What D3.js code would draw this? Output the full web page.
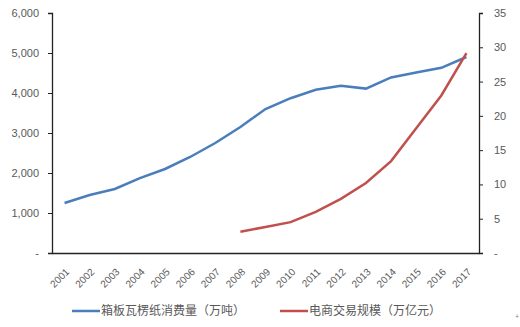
<!DOCTYPE html>
<html><head><meta charset="utf-8">
<script src="https://cdn.jsdelivr.net/npm/d3@7"></script>
<style>body{margin:0;background:#fff;} text{font-family:"Liberation Sans","DejaVu Sans",sans-serif;}</style>
</head><body>
<svg id="c" width="520" height="327"></svg>
<script>
const years = ["2001","2002","2003","2004","2005","2006","2007","2008","2009","2010","2011","2012","2013","2014","2015","2016","2017"];
const cardboard = [1250,1450,1600,1870,2100,2400,2750,3150,3600,3870,4080,4180,4110,4390,4510,4630,4900];
const ecomYears = ["2008","2009","2010","2011","2012","2013","2014","2015","2016","2017"];
const ecom = [3.1,3.8,4.5,6.0,7.9,10.2,13.4,18.2,22.97,29.16];
const leftTicks = [0,1000,2000,3000,4000,5000,6000];
const rightTicks = [0,5,10,15,20,25,30,35];
const seriesNames = ["箱板瓦楞纸消费量（万吨）","电商交易规模（万亿元）"];

const svg = d3.select("#c");
const L = 52, R = 479, T = 13, B = 253;
const x = d3.scaleBand().domain(years).range([L, R]);
const yL = d3.scaleLinear().domain([0, 6000]).range([B, T]);
const yR = d3.scaleLinear().domain([0, 35]).range([B, T]);
const grey = "#595959";

const ax1 = svg.append("g").attr("transform", `translate(${L},0)`)
  .call(d3.axisLeft(yL).tickValues(leftTicks).tickSize(4).tickPadding(9)
    .tickFormat(d => d === 0 ? "-" : d3.format(",")(d)));
const ax2 = svg.append("g").attr("transform", `translate(${R},0)`)
  .call(d3.axisRight(yR).tickValues(rightTicks).tickSize(4).tickPadding(11)
    .tickFormat(d => d === 0 ? "-" : d));
[ax1, ax2].forEach(a => {
  a.select(".domain").attr("stroke", "#222").attr("stroke-width", 1.3);
  a.selectAll(".tick line").attr("stroke", "#222");
  a.selectAll("text").attr("fill", grey).style("font-size", "11px");
});
const ax3 = svg.append("g").attr("transform", `translate(0,${B})`)
  .call(d3.axisBottom(x).tickSize(0).tickSizeOuter(0).tickPadding(0));
ax3.select(".domain").attr("stroke", "#222").attr("stroke-width", 1.3);
ax3.selectAll("text").attr("fill", grey).style("font-size", "10px")
  .attr("text-anchor", "end")
  .attr("transform", "translate(3,17) rotate(-45)")
  .attr("dy", "0.35em");

const line1 = d3.line().x((d, i) => x(years[i]) + x.bandwidth() / 2).y(d => yL(d));
svg.append("path").datum(cardboard).attr("d", line1)
  .attr("fill", "none").attr("stroke", "#4a7ebb").attr("stroke-width", 2.5);
const line2 = d3.line().x((d, i) => x(ecomYears[i]) + x.bandwidth() / 2).y(d => yR(d));
svg.append("path").datum(ecom).attr("d", line2)
  .attr("fill", "none").attr("stroke", "#c0504d").attr("stroke-width", 2.5);

const lg = svg.append("g");
const items = [{x: 72, c: "#4a7ebb"}, {x: 280, c: "#c0504d"}];
items.forEach((it, i) => {
  lg.append("line").attr("x1", it.x).attr("x2", it.x + 28).attr("y1", 311).attr("y2", 311)
    .attr("stroke", it.c).attr("stroke-width", 2.5);
  lg.append("text").attr("x", it.x + 29).attr("y", 311).attr("dy", "0.35em")
    .attr("fill", grey).style("font-size", "12px")
    .style("font-family", '"Noto Sans CJK SC",sans-serif').text(seriesNames[i]);
});
svg.append("text").attr("x", 517).attr("y", 319).attr("text-anchor", "middle")
  .attr("fill", "#888").style("font-size", "7px").text("+");
</script>
</body></html>
